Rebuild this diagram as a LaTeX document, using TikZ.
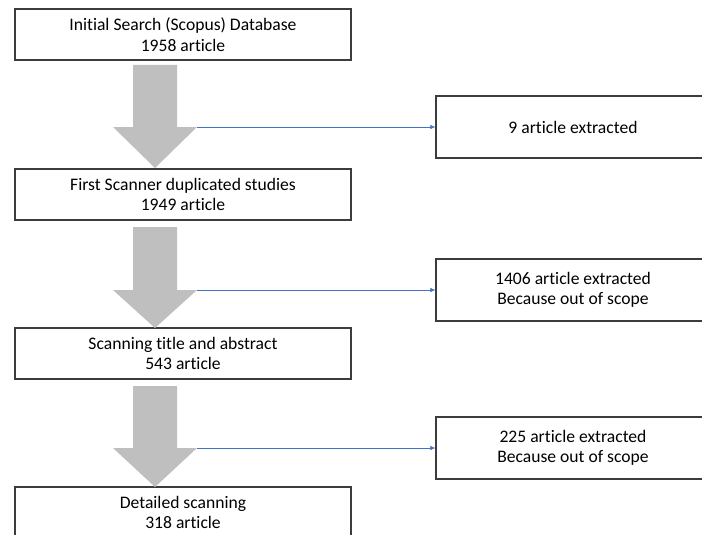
\documentclass[tikz,border=0pt]{standalone}
\usepackage{fontspec}
\setmainfont[Ligatures=NoCommon]{Carlito}
\usetikzlibrary{arrows.meta}
\definecolor{arrowgray}{RGB}{191,191,191}
\definecolor{linkblue}{RGB}{68,114,196}
\definecolor{boxline}{RGB}{60,60,60}
\begin{document}
\begin{tikzpicture}[
			x=1pt,y=-1pt,
			box/.style={draw=boxline,line width=1.2pt,fill=white,align=center,
					minimum width=336pt,minimum height=51pt,inner sep=0pt,
					font=\fontsize{17.6}{20.5}\selectfont},
			sidebox/.style={box,minimum width=274pt,minimum height=62pt},
			bigarrow/.style={fill=arrowgray},
			link/.style={draw=linkblue,line width=0.6pt,-{Latex[length=5pt,width=4.5pt]}}
		]
		\useasboundingbox (0,0) rectangle (702,535);
		% main column
		\node[box] (initial) at (183,34.5) {Initial Search (Scopus) Database\\1958 article};
		\node[box] (duplicates) at (183,194.5) {First Scanner duplicated studies\\1949 article};
		\node[box] (abstract) at (183,353.5) {Scanning title and abstract\\543 article};
		\node[box] (detailed) at (183,512.5) {Detailed scanning\\318 article};
		% removed articles
		\node[sidebox] (removed1) at (573,127) {9 article extracted};
		\node[sidebox] (removed2) at (573,290) {1406 article extracted\\Because out of scope};
		\node[sidebox] (removed3) at (573,448) {225 article extracted\\Because out of scope};
		% big gray arrows
		\foreach \top/\base/\tip/\n in {65/127/168/1,227/290/328/2,386/448/487/3} {
				\fill[bigarrow] (133,\top) -- (177,\top) -- (177,\base) -- (197,\base)
				-- (155,\tip) -- (113,\base) -- (133,\base) -- cycle;
				\coordinate (corner\n) at (197,\base);
			}
		\draw[link] (corner1) -- (removed1.west);
		\draw[link] (corner2) -- (removed2.west);
		\draw[link] (corner3) -- (removed3.west);
	\end{tikzpicture}
\end{document}
